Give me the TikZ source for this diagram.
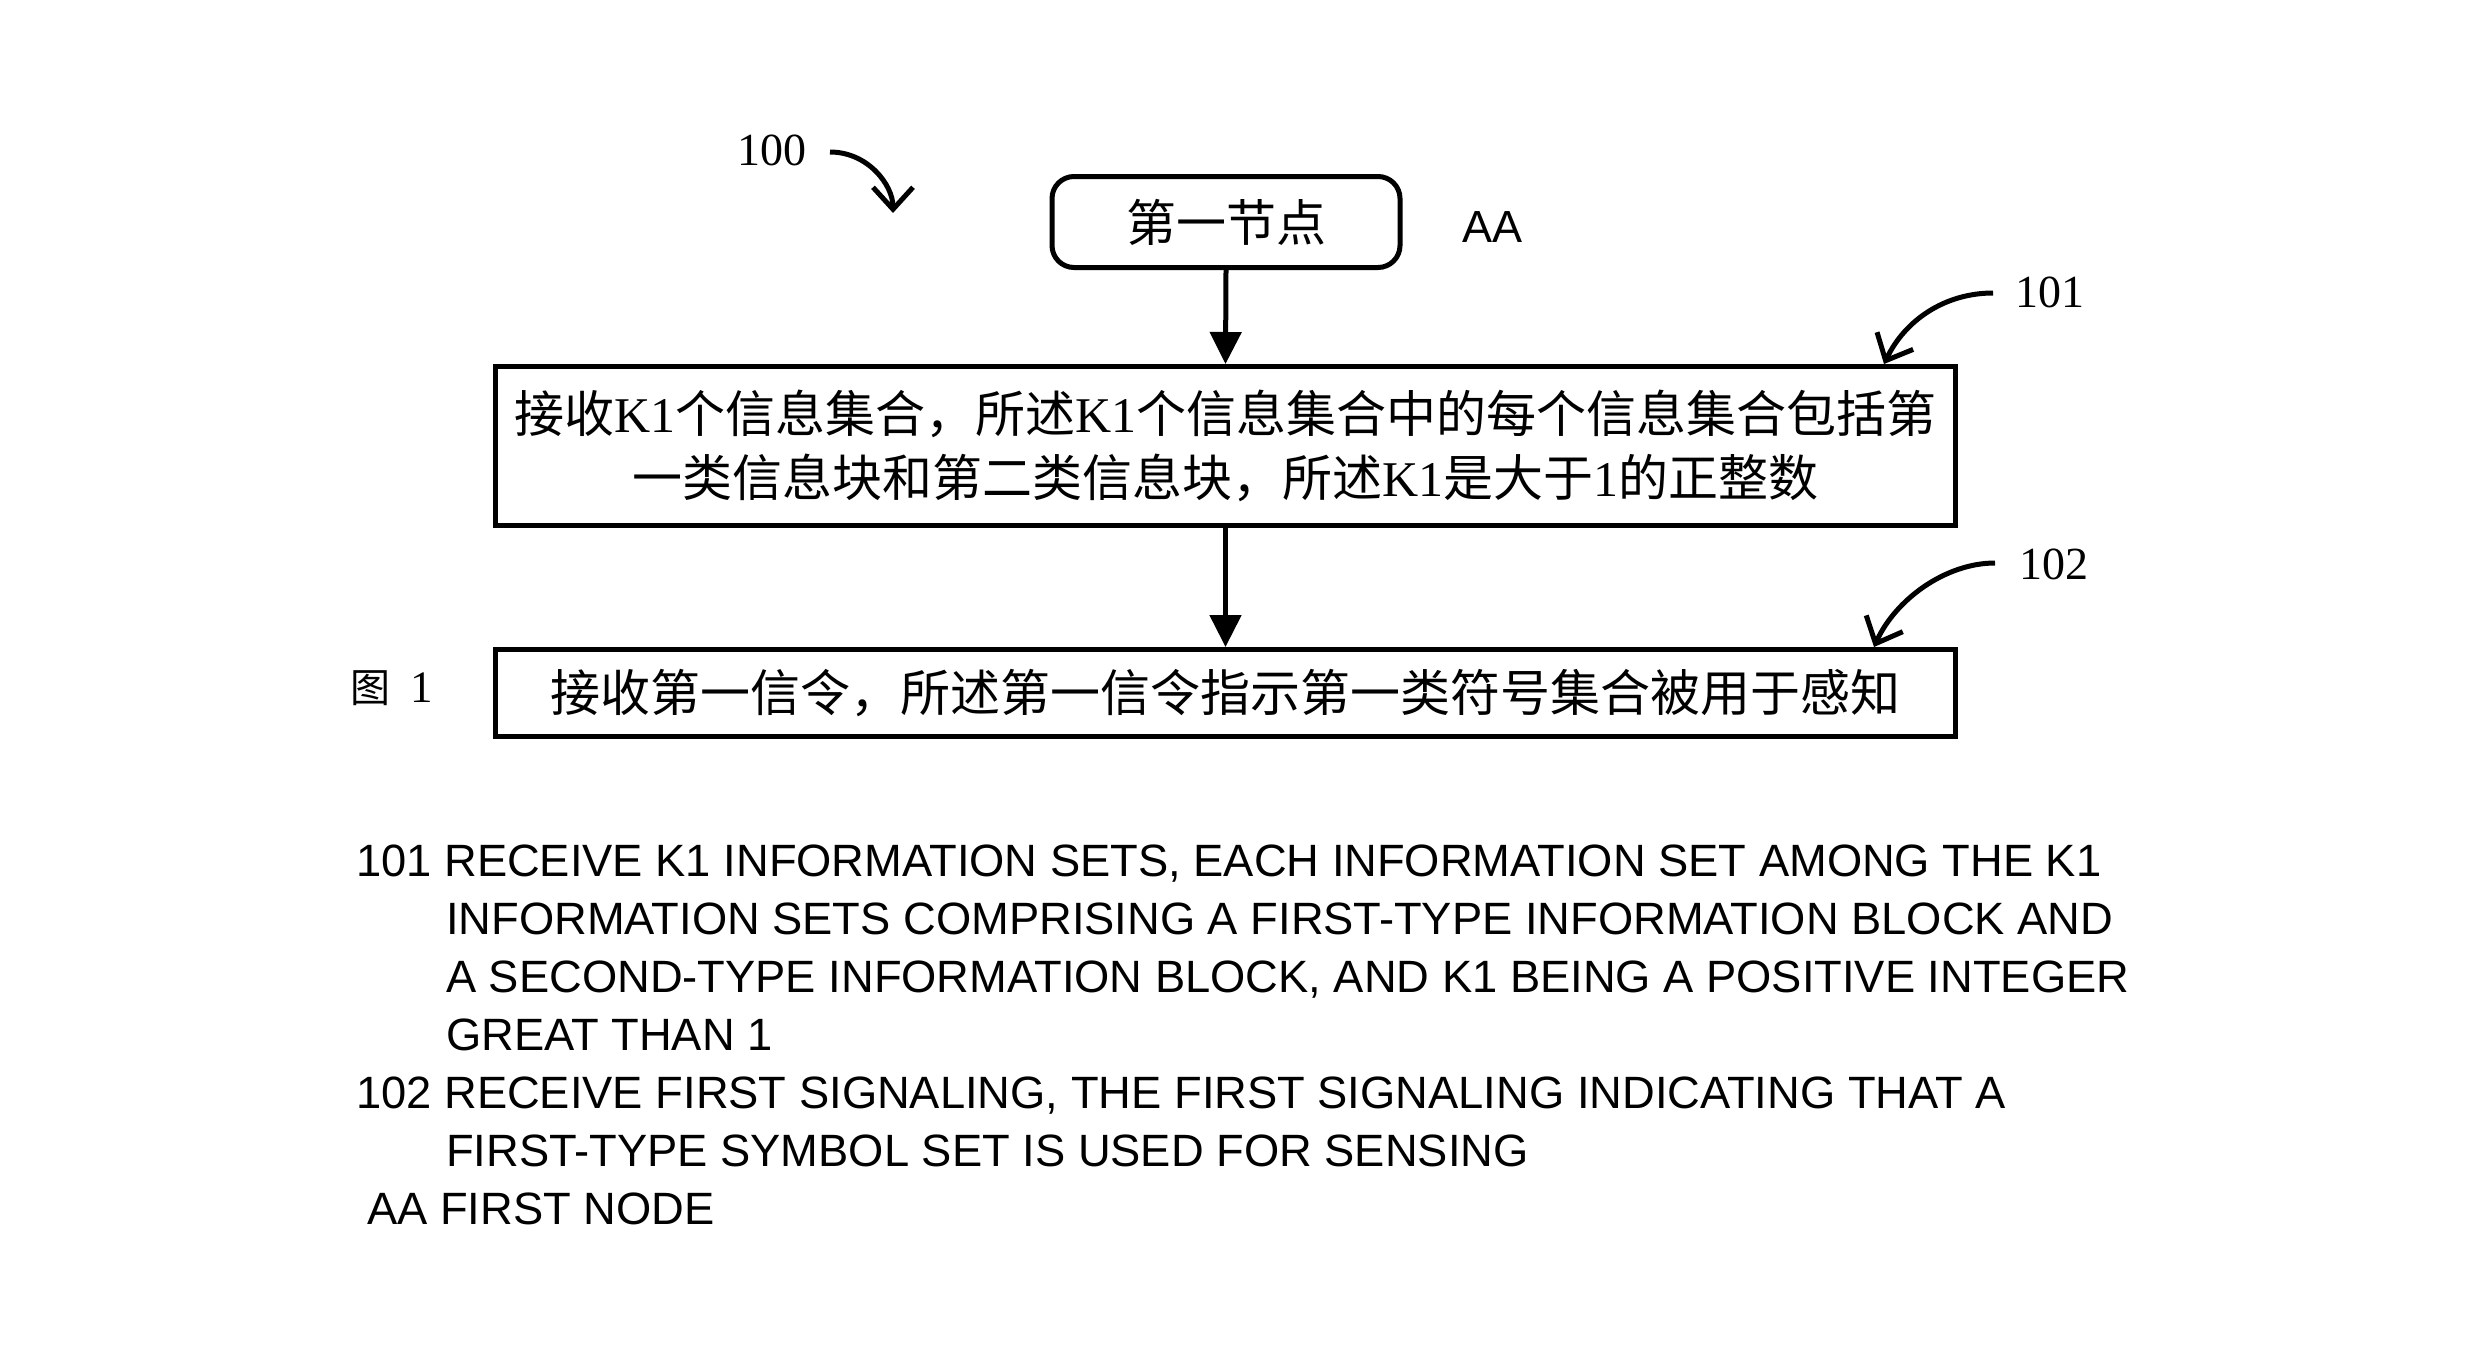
\documentclass[tikz,border=0pt]{standalone}
\usepackage{fontspec}
\setmainfont{Liberation Serif}
\newfontfamily\cjk{Noto Sans CJK SC}
\newfontfamily\arial{Liberation Sans}
\usetikzlibrary{arrows.meta}
\newcommand{\lt}[1]{{\rmfamily #1}}
\tikzset{
  x=1pt, y=-1pt,
  boxstyle/.style={draw, line width=5pt, inner sep=0pt, font=\fontsize{50}{64}\selectfont\cjk, align=center},
  flow/.style={line width=5pt, -{Triangle[length=32pt,width=31pt]}},
  callout/.style={line width=5pt, -{Straight Barb[length=22pt,width=40pt,line width=5pt]}},
  numlabel/.style={font=\fontsize{46}{50}\selectfont\rmfamily, inner sep=0pt},
  eng/.style={font=\fontsize{45.3}{50}\selectfont\arial, inner sep=0pt, anchor=base west},
}
\begin{document}
\begin{tikzpicture}
\path[use as bounding box, fill=white] (0,0) rectangle (2470,1347);

% boxes
\node[boxstyle, rounded corners=22pt, minimum width=348pt, minimum height=91pt] (start) at (1226,222) {第一节点};
\node[boxstyle, minimum width=1460pt, minimum height=159pt] (b1) at (1225.5,446)
  {接收\lt{K1}个信息集合，所述\lt{K1}个信息集合中的每个信息集合包括第\\一类信息块和第二类信息块，所述\lt{K1}是大于\lt{1}的正整数};
\node[boxstyle, minimum width=1460pt, minimum height=87pt] (b2) at (1225.5,693)
  {接收第一信令，所述第一信令指示第一类符号集合被用于感知};

% flow arrows
\draw[flow] (start.south) -- (b1.north);
\draw[flow] (b1.south) -- (b2.north);

% labels
\node[numlabel] (l100) at (772,150) {100};
\node[numlabel] (l101) at (2050,292) {101};
\node[numlabel] (l102) at (2054,564) {102};
\node[font=\fontsize{45}{50}\selectfont\arial, inner sep=0pt] (aa) at (1492,227) {AA};
\node[font=\fontsize{45}{50}\selectfont, inner sep=0pt, anchor=base west] (fig) at (350,702) {{\cjk\fontsize{40}{50}\selectfont 图}\hspace{20pt}1};

% callout arrows
\coordinate (c100s) at (830,152);
\coordinate (c100e) at (893,213);
\draw[callout] (c100s) .. controls (868,152) and (893,185) .. (c100e);
\coordinate (c101s) at (1993,293);
\coordinate (c101e) at (1884,364);
\draw[callout] (c101s) .. controls (1945,293) and (1905,320) .. (c101e);
\coordinate (c102s) at (1995,563);
\coordinate (c102e) at (1874,647);
\draw[callout] (c102s) .. controls (1945,563) and (1895,600) .. (c102e);

% english legend
\node[eng] (e1) at (356,876) {101 RECEIVE K1 INFORMATION SETS, EACH INFORMATION SET AMONG THE K1};
\node[eng] (e2) at (446,934) {INFORMATION SETS COMPRISING A FIRST-TYPE INFORMATION BLOCK AND};
\node[eng] (e3) at (446,992) {A SECOND-TYPE INFORMATION BLOCK, AND K1 BEING A POSITIVE INTEGER};
\node[eng] (e4) at (446,1050) {GREAT THAN 1};
\node[eng] (e5) at (356,1108) {102 RECEIVE FIRST SIGNALING, THE FIRST SIGNALING INDICATING THAT A};
\node[eng] (e6) at (446,1166) {FIRST-TYPE SYMBOL SET IS USED FOR SENSING};
\node[eng] (e7) at (367,1224) {AA FIRST NODE};
\end{tikzpicture}
\end{document}
